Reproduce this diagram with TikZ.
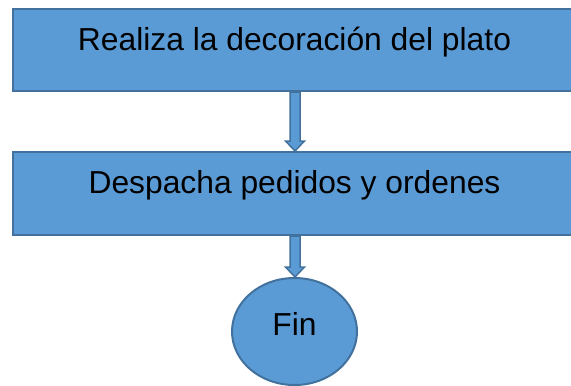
\documentclass[tikz,border=0pt]{standalone}
\usepackage{fontspec}
\setmainfont{Liberation Sans}
\usetikzlibrary{shapes.geometric,calc}
\definecolor{boxfill}{HTML}{5B9BD5}
\definecolor{boxline}{HTML}{41719C}
\tikzset{
  stepbox/.style={rectangle, draw=boxline, fill=boxfill, line width=2pt,
    inner sep=0pt, minimum width=563pt, text height=24pt, text depth=24pt,
    font=\fontsize{31.8}{36}\selectfont},
  endnode/.style={ellipse, draw=boxline, fill=boxfill, line width=2pt,
    inner sep=0pt, minimum width=125pt, minimum height=107pt,
    text height=24pt, text depth=17pt, font=\fontsize{31.8}{36}\selectfont},
  blockarrow/.style={draw=boxline, fill=boxfill, line width=1.5pt, line join=miter,
    to path={let \p1=(\tikztostart), \p2=(\tikztotarget) in
      ({\x1-5pt},{\y1}) -- ({\x1+5pt},{\y1}) -- ({\x1+5pt},{\y2+10pt}) --
      ({\x1+9.5pt},{\y2+10pt}) -- ({\x1},{\y2}) -- ({\x1-9.5pt},{\y2+10pt}) --
      ({\x1-5pt},{\y2+10pt}) -- cycle}}
}
\begin{document}
\begin{tikzpicture}[x=1pt,y=-1pt]
\useasboundingbox (0,0) rectangle (571,386);
\clip (0,0) rectangle (571,386);
\node[stepbox, minimum height=82pt] (b1) at (294.5,50) {Realiza la decoración del plato};
\node[stepbox, minimum height=83pt] (b2) at (294.5,193.5) {Despacha pedidos y ordenes};
\node[endnode] (fin) at (294.5,331.5) {Fin};
\draw[blockarrow] ($(b1.south)+(0.5,0)$) to ($(b2.north)+(0.5,0)$);
\draw[blockarrow] ($(b2.south)+(0.5,0)$) to ($(fin.north)+(0.5,0)$);
\end{tikzpicture}
\end{document}
